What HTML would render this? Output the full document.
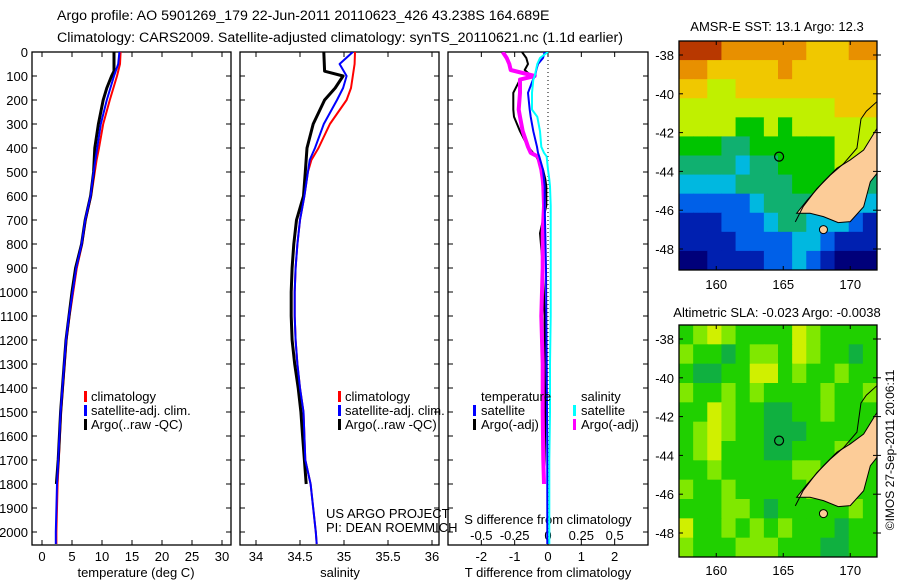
<!DOCTYPE html>
<html><head><meta charset="utf-8">
<style>
html,body{margin:0;padding:0;background:#fff;}
svg{display:block;font-family:"Liberation Sans",sans-serif;}
text{fill:#000;}
</style></head>
<body>
<svg id="chart" width="900" height="580" viewBox="0 0 900 580">
<g id="titles">
<text x="57" y="20" font-size="14.2" text-anchor="start">Argo profile: AO 5901269_179 22-Jun-2011 20110623_426 43.238S 164.689E</text>
<text x="57" y="42" font-size="14.2" text-anchor="start">Climatology: CARS2009. Satellite-adjusted climatology: synTS_20110621.nc (1.1d earlier)</text>
</g>
<defs>
<clipPath id="cp1"><rect x="32" y="52" width="199" height="493"/></clipPath>
<clipPath id="cp2"><rect x="240" y="52" width="199" height="493"/></clipPath>
<clipPath id="cp3"><rect x="448" y="52" width="200" height="493"/></clipPath>
<clipPath id="cm1"><rect x="679" y="41" width="198" height="229"/></clipPath>
<clipPath id="cm2"><rect x="679" y="325" width="198" height="232"/></clipPath>
</defs>
<g id="g1"></g>
<g id="g2"></g>
<g id="g3"></g>
<g id="m1"></g>
<g id="m2"></g>
<text x="0" y="0" font-size="12" transform="translate(894,450) rotate(-90)" text-anchor="middle">©IMOS 27-Sep-2011 20:06:11</text>
</svg>
<script>
// ---- profile data ----
const depthClim = [0,50,100,150,200,300,400,450,500,600,700,800,900,1000,1100,1200,1300,1400,1500,1600,1700,1800,1900,2000,2050];
const tempClim = [13.1,13.0,12.5,11.9,11.3,10.2,9.5,9.1,8.8,8.2,7.3,6.7,5.8,5.2,4.6,4.1,3.8,3.5,3.2,3.0,2.8,2.6,2.5,2.4,2.4];
const tempSat  = [12.9,12.7,12.0,11.4,10.8,9.8,9.2,8.9,8.6,8.1,7.2,6.6,5.7,5.1,4.5,4.0,3.7,3.4,3.1,2.9,2.7,2.5,2.4,2.3,2.3];
const depthArgo = [0,80,100,150,200,300,400,500,600,700,800,900,1000,1100,1200,1300,1400,1500,1600,1700,1800];
const tempArgo = [12.0,12.0,11.6,10.8,10.2,9.4,8.8,8.6,8.1,7.2,6.6,5.6,5.0,4.5,4.0,3.7,3.4,3.1,2.9,2.7,2.4];
const salClim = [35.125,35.12,35.10,35.08,35.03,34.84,34.71,34.63,34.59,34.55,34.50,34.47,34.45,34.44,34.44,34.45,34.47,34.50,34.54,34.55,34.56,34.62,34.65,34.68,34.69];
const salSat  = [35.10,34.95,35.03,34.99,34.92,34.77,34.67,34.61,34.59,34.55,34.50,34.47,34.45,34.44,34.44,34.45,34.47,34.50,34.54,34.55,34.56,34.62,34.65,34.68,34.69];
const salArgo = [34.77,34.78,34.99,34.90,34.78,34.65,34.58,34.56,34.54,34.46,34.43,34.41,34.40,34.40,34.41,34.44,34.48,34.51,34.53,34.55,34.57];
const depthDiff = [0,25,50,75,100,115,170,240,270,330,395,420,436,490,530,560,640,755,900,1100,1300,1500,1700,1800,1900,2050];
const tDiffSat  = [-0.1,-0.15,-0.3,-0.35,-0.39,-0.45,-0.6,-0.55,-0.52,-0.44,-0.33,-0.3,-0.26,-0.15,-0.12,-0.1,-0.1,-0.08,-0.06,-0.05,-0.04,-0.03,-0.02,-0.02,-0.02,-0.02];
const tDiffArgo = [-0.78,-0.65,-0.6,-0.7,-0.5,-0.84,-1.04,-1.04,-1.02,-0.84,-0.6,-0.45,-0.35,-0.15,-0.08,-0.05,-0.05,-0.24,-0.15,-0.1,-0.1,-0.08,-0.1,-0.12,null,null];
const sDiffSat  = [0,-0.06,-0.08,-0.09,-0.1,-0.11,-0.12,-0.12,-0.08,-0.06,-0.05,-0.03,-0.01,0.0,0.01,0.015,0.02,0.02,0.02,0.02,0.015,0.015,0.01,0.01,0.01,0.01];
const sDiffArgo = [-0.34,-0.31,-0.29,-0.28,-0.1,-0.21,-0.21,-0.22,-0.21,-0.19,-0.15,-0.13,-0.075,-0.05,-0.04,-0.035,-0.03,-0.04,-0.04,-0.05,-0.04,-0.04,-0.035,-0.03,null,null];
const depthTicks = [0,100,200,300,400,500,600,700,800,900,1000,1100,1200,1300,1400,1500,1600,1700,1800,1900,2000];
const tempTicks = [0,5,10,15,20,25,30];
const salTicks = [34,34.5,35,35.5,36];
const tDiffTicks = [-2,-1,0,1,2];
const sDiffTicks = [-0.5,-0.25,0,0.25,0.5];
const sDiffTickLabels = ["-0.5","-0.25","0","0.25","0.5"];
// ---- map data ----
const sstGrid = [
[9,9,9,8,8,8,8,8,8,7,7,7,8,8],
[8,8,7,7,7,7,7,8,7,7,7,7,7,7],
[7,7,6,6,7,7,7,7,7,7,7,7,7,7],
[6,6,6,6,6,6,6,6,6,6,6,7,7,7],
[6,6,6,6,5,5,6,5,6,6,6,6,6,6],
[5,5,5,4,4,5,5,5,5,5,5,6,6,6],
[4,4,4,4,3,4,4,5,5,5,5,6,6,6],
[3,3,3,3,4,4,4,4,5,5,5,5,4,4],
[2,2,2,2,2,3,4,4,4,4,4,3,3,3],
[1,1,1,2,2,2,3,4,4,3,3,3,2,1],
[1,1,1,1,2,2,2,2,3,3,2,1,1,1],
[0,0,1,1,1,1,2,2,3,2,1,0,0,0]];
const slaGrid = [
[1,2,3,2,1,1,1,1,3,2,1,1,1,1],
[2,1,1,0,1,2,2,1,3,2,1,1,0,1],
[1,0,0,1,1,3,3,1,2,1,1,2,1,1],
[2,1,1,2,1,2,1,1,1,1,2,1,1,2],
[1,1,3,2,1,1,0,0,1,1,2,1,1,1],
[1,2,3,2,1,1,0,0,0,1,1,1,1,1],
[1,2,3,1,1,1,0,0,1,1,1,2,1,1],
[1,1,2,1,1,1,1,1,2,2,1,1,1,1],
[2,1,1,2,1,1,1,1,1,2,1,1,1,1],
[1,1,1,2,2,1,0,1,1,1,1,1,2,1],
[3,1,1,2,1,2,1,2,1,1,1,0,1,1],
[2,1,1,1,2,2,2,1,1,1,0,0,1,1]];
const landLon = [166.0,166.8,168.0,169.0,170.0,171.0,172.0,172.0,171.5,171.0,170.0,169.1,168.0,167.0];
const landLat = [-46.16,-45.47,-44.53,-43.84,-43.41,-42.9,-41.78,-44.1,-44.53,-45.82,-46.59,-46.64,-46.33,-46.16];
const contourLon = [165.9,166.5,167.5,168.5,169.5,170.5,170.8,171.2,172.0];
const contourLat = [-46.6,-45.8,-44.9,-44.2,-43.6,-42.8,-41.3,-40.9,-40.4];
const floatLon = 164.689, floatLat = -43.238;
const mapLonTicks = [160,165,170];
const mapLatTicks = [-38,-40,-42,-44,-46,-48];

const NS="http://www.w3.org/2000/svg";
function el(parent,tag,attrs){const e=document.createElementNS(NS,tag);for(const k in attrs)e.setAttribute(k,attrs[k]);parent.appendChild(e);return e;}
const yD = d => 52 + d*0.24;
const xT = t => 42 + t*6;
const xS = s => 256 + (s-34)*88;
const xTd = v => 548 + v*33.33;
const xSd = v => 548 + v*133.3;

function frame(g,x0,x1,name){
  const r=el(g,'rect',{x:x0,y:52,width:x1-x0,height:493,fill:'none',stroke:'#000','stroke-width':1.3});
  
  
  depthTicks.forEach(d=>{
    el(g,'line',{x1:x0,x2:x0+5,y1:yD(d),y2:yD(d),stroke:'#000'});
    el(g,'line',{x1:x1-5,x2:x1,y1:yD(d),y2:yD(d),stroke:'#000'});
  });
}
function xticks(g,vals,fx,labels,ly){
  vals.forEach((v,i)=>{
    el(g,'line',{x1:fx(v),x2:fx(v),y1:52,y2:57,stroke:'#000'});
    el(g,'line',{x1:fx(v),x2:fx(v),y1:540,y2:545,stroke:'#000'});
    if(labels){const t=el(g,'text',{x:fx(v),y:ly,'font-size':13,'text-anchor':'middle'});t.textContent=labels[i];
      
      }
  });
}
function line(g,fx,vals,depths,color,w,clip,name,dash){
  let pts=[];
  vals.forEach((v,i)=>{if(v!==null)pts.push(fx(v).toFixed(1)+','+yD(depths[i]).toFixed(1));});
  const p=el(g,'polyline',{points:pts.join(' '),fill:'none',stroke:color,'stroke-width':w,'clip-path':'url(#'+clip+')','stroke-linejoin':'round'});
  if(dash)p.setAttribute('stroke-dasharray',dash);
  
  
}
function txt(g,x,y,s,size,anchor,name){
  const t=el(g,'text',{x:x,y:y,'font-size':size,'text-anchor':anchor||'start'});t.textContent=s;
  
  
  return t;
}
function legendBar(g,x,y,color,name){
  const r=el(g,'rect',{x:x,y:y-10,width:3,height:11,fill:color});
  
  
}

// Panel 1
const g1=document.getElementById('g1');
frame(g1,32,231,'temperature-plot-frame');
depthTicks.forEach(d=>txt(g1,28,yD(d)+5,String(d),13,'end','depth-tick-label'));
xticks(g1,tempTicks,xT,tempTicks.map(String),561);
txt(g1,136,577,'temperature (deg C)',13,'middle','temperature-axis-title');
line(g1,xT,tempClim,depthClim,'#f00',2,'cp1','temp-climatology-line');
line(g1,xT,tempArgo,depthArgo,'#000',3,'cp1','temp-argo-line');
line(g1,xT,tempSat,depthClim,'#00f',2,'cp1','temp-satellite-line');
legendBar(g1,84,401,'#f00','legend-climatology-swatch'); txt(g1,91,401,'climatology',13,'start','legend-climatology');
legendBar(g1,84,415,'#00f','legend-satellite-swatch'); txt(g1,91,415,'satellite-adj. clim.',13,'start','legend-satellite');
legendBar(g1,84,429,'#000','legend-argo-swatch'); txt(g1,91,429,'Argo(..raw -QC)',13,'start','legend-argo');

// Panel 2
const g2=document.getElementById('g2');
frame(g2,240,439,'salinity-plot-frame');
xticks(g2,salTicks,xS,salTicks.map(String),561);
txt(g2,340,577,'salinity',13,'middle','salinity-axis-title');
line(g2,xS,salClim,depthClim,'#f00',2,'cp2','sal-climatology-line');
line(g2,xS,salArgo,depthArgo,'#000',3,'cp2','sal-argo-line');
line(g2,xS,salSat,depthClim,'#00f',2,'cp2','sal-satellite-line');
legendBar(g2,338,401,'#f00','legend-climatology-swatch'); txt(g2,345,401,'climatology',13,'start','legend-climatology');
legendBar(g2,338,415,'#00f','legend-satellite-swatch'); txt(g2,345,415,'satellite-adj. clim.',13,'start','legend-satellite');
legendBar(g2,338,429,'#000','legend-argo-swatch'); txt(g2,345,429,'Argo(..raw -QC)',13,'start','legend-argo');
txt(g2,326,518,'US ARGO PROJECT',13,'start','project-credit');
txt(g2,326,532,'PI: DEAN ROEMMICH',13,'start','pi-credit');

// Panel 3
const g3=document.getElementById('g3');
frame(g3,448,648,'difference-plot-frame');
tDiffTicks.forEach((v,i)=>{
  el(g3,'line',{x1:xTd(v),x2:xTd(v),y1:52,y2:57,stroke:'#000'});
  el(g3,'line',{x1:xTd(v),x2:xTd(v),y1:540,y2:545,stroke:'#000'});
  txt(g3,xTd(v),561,String(v),13,'middle','t-diff-tick-label');
});
sDiffTicks.forEach((v,i)=>txt(g3,xSd(v),540,sDiffTickLabels[i],13,'middle','s-diff-tick-label'));
txt(g3,548,524,'S difference from climatology',13,'middle','s-diff-axis-title');
txt(g3,548,577,'T difference from climatology',13,'middle','t-diff-axis-title');
el(g3,'line',{x1:548,x2:548,y1:52,y2:545,stroke:'#000','stroke-dasharray':'1,3'});
line(g3,xTd,tDiffArgo,depthDiff,'#000',2,'cp3','t-diff-argo-line');
line(g3,xSd,sDiffArgo,depthDiff,'#f0f',4,'cp3','s-diff-argo-line');
line(g3,xTd,tDiffSat,depthDiff,'#00f',2,'cp3','t-diff-satellite-line');
line(g3,xSd,sDiffSat,depthDiff,'#0ff',2,'cp3','s-diff-satellite-line');
txt(g3,481,401,'temperature',13,'start','legend-temperature-header');
legendBar(g3,473,415,'#00f','legend-t-satellite-swatch'); txt(g3,481,415,'satellite',13,'start','legend-t-satellite');
legendBar(g3,473,429,'#000','legend-t-argo-swatch'); txt(g3,481,429,'Argo(-adj)',13,'start','legend-t-argo');
txt(g3,581,401,'salinity',13,'start','legend-salinity-header');
legendBar(g3,573,415,'#0ff','legend-s-satellite-swatch'); txt(g3,581,415,'satellite',13,'start','legend-s-satellite');
legendBar(g3,573,429,'#f0f','legend-s-argo-swatch'); txt(g3,581,429,'Argo(-adj)',13,'start','legend-s-argo');

// Maps
const sstColors=['#00007a','#0020b0','#0060e8','#00b8e0','#10b070','#00c400','#c0f000','#f0c800','#e89000','#b83800'];
const slaColors=['#10b040','#20d000','#80e800','#d0f000'];
function drawMap(gid,grid,colors,top,h,clip,title,titleY,labelY,name){
  const g=document.getElementById(gid);
  const x0=679,w=198,lonMin=157.22;
  const px=lon=>x0+(lon-lonMin)*13.4;
  const py=lat=>top+14+(-38-lat)*19.4;
  const rows=grid.length, cols=grid[0].length;
  const cg=el(g,'g',{'clip-path':'url(#'+clip+')'});
  grid.forEach((row,r)=>row.forEach((v,c)=>{
    const cell=el(cg,'rect',{x:x0+c*w/cols,y:top+r*h/rows,width:w/cols+0.6,height:h/rows+0.6,fill:colors[v]});
    
    
  }));
  const land=el(cg,'polygon',{points:landLon.map((l,i)=>px(l)+','+py(landLat[i])).join(' '),fill:'#fccc98',stroke:'#000','stroke-width':1});
  
  
  const isl=el(cg,'ellipse',{cx:px(168.0),cy:py(-47.0),rx:4,ry:4,fill:'#fccc98',stroke:'#000'});
  
  
  const ct=el(cg,'polyline',{points:contourLon.map((l,i)=>px(l)+','+py(contourLat[i])).join(' '),fill:'none',stroke:'#000','stroke-width':1});
  
  
  const fl=el(g,'circle',{cx:px(floatLon),cy:py(floatLat),r:4.5,fill:'none',stroke:'#000','stroke-width':1.2});
  
  
  const fr=el(g,'rect',{x:x0,y:top,width:w,height:h,fill:'none',stroke:'#000','stroke-width':1.3});
  
  
  mapLonTicks.forEach(l=>{
    el(g,'line',{x1:px(l),x2:px(l),y1:top,y2:top+4,stroke:'#000'});
    el(g,'line',{x1:px(l),x2:px(l),y1:top+h-4,y2:top+h,stroke:'#000'});
    txt(g,px(l),labelY,String(l),13,'middle','map-lon-label');
  });
  mapLatTicks.forEach(l=>{
    el(g,'line',{x1:x0,x2:x0+4,y1:py(l),y2:py(l),stroke:'#000'});
    el(g,'line',{x1:x0+w-4,x2:x0+w+4,y1:py(l),y2:py(l),stroke:'#000'});
    txt(g,674,py(l)+5,String(l),13,'end','map-lat-label');
  });
  txt(g,777,titleY,title,13,'middle',name+'-title');
}
drawMap('m1',sstGrid,sstColors,41,229,'cm1','AMSR-E SST: 13.1 Argo: 12.3',31,289,'sst-map');
drawMap('m2',slaGrid,slaColors,325,232,'cm2','Altimetric SLA: -0.023 Argo: -0.0038',317,575,'sla-map');
</script>
</body></html>
